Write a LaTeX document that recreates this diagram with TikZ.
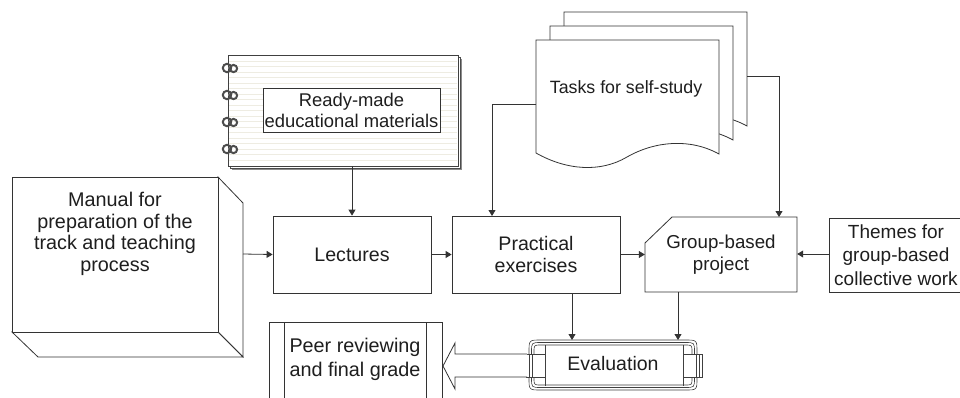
\documentclass[tikz,border=0pt]{standalone}
\usepackage{fontspec}
\setmainfont{Liberation Sans}
\usetikzlibrary{arrows.meta}
\definecolor{ink}{HTML}{1E1E1E}
\definecolor{rule}{HTML}{EEECE2}
\tikzset{
  ln/.style={draw=black!80, line width=0.8pt},
  arr/.style={draw=black!80, line width=0.8pt, -{Triangle[width=7pt,length=6pt]}},
  box/.style={draw=black!80, line width=0.8pt, fill=white, inner sep=0pt, align=center, text=ink},
  lbl/.style={inner sep=0pt, align=center, text=ink},
  fnt/.style={font=\fontsize{19.6}{22.5}\selectfont},
}
\newcommand\taskdoc{%
  (0,0) -- (183,0) -- (183,114) .. controls (154,98) and (119,101) .. (91,117)
  .. controls (64,133) and (30,130) .. (0,113) -- cycle}
\begin{document}
\begin{tikzpicture}[x=1pt,y=-1pt]
\useasboundingbox (0,0) rectangle (960,397);
\clip (0,0) rectangle (960,397);

% ---------- Manual (3D box)
\draw[ln, fill=white] (218,177) -- (243,203) -- (243,357) -- (218,332) -- cycle;
\draw[ln, fill=white] (12,332) -- (38,357) -- (243,357) -- (218,332) -- cycle;
\node[box, minimum width=206pt, minimum height=155pt] (manual) at (115,254.5) {};
\node[lbl, font=\fontsize{19.8}{21.7}\selectfont] (manualtxt) at (115,234)
  {Manual for\\preparation of the\\track and teaching\\process};
\coordinate (manualside) at (243,254);

% ---------- Notebook
\fill[black!45] (232,59) rectangle (462,170);
\draw[black!70, line width=0.6pt, fill=white] (230,57) rectangle (460,168);
\fill[white] (228,55) rectangle (458,166);
\foreach \y in {61,66.5,...,164} \draw[rule, line width=0.7pt] (229,\y) -- (457,\y);
\draw[black!75, line width=0.8pt] (228,55) rectangle (458,166);
\foreach \y in {68,95,122,149} {
  \draw[black!70, line width=2pt] (227,\y) circle[radius=4.2];
  \draw[black!70, line width=2pt] (233.5,\y+0.5) circle[radius=3.6];
  \fill[white] (227,\y) circle[radius=1.6];
  \fill[white] (233.5,\y+0.5) circle[radius=1.3];
}
\node[box, minimum width=177pt, minimum height=44pt, font=\fontsize{18.4}{21}\selectfont] (ready) at (351.5,110)
  {Ready-made\\educational materials};
\coordinate (nb) at (352,166);

% ---------- Tasks for self-study (stacked documents)
\begin{scope}[shift={(564,12)}] \draw[ln, fill=white] \taskdoc; \end{scope}
\begin{scope}[shift={(550,26)}] \draw[ln, fill=white] \taskdoc; \end{scope}
\begin{scope}[shift={(536,40)}] \draw[ln, fill=white] \taskdoc; \end{scope}
\node[lbl, font=\fontsize{17.8}{21}\selectfont] (tasks) at (626,89) {Tasks for self-study};
\coordinate (t1) at (536,104);
\coordinate (t3) at (747,76);

% ---------- Main row
\node[box, fnt, minimum width=158pt, minimum height=77pt] (lect) at (352,254.5) {Lectures};
\node[box, fnt, minimum width=168pt, minimum height=77pt] (prac) at (536,254.5) {Practical\\exercises};
\draw[ln, fill=white] (645,243) -- (672,217) -- (797,217) -- (797,292) -- (645,292) -- cycle;
\node[lbl, minimum width=152pt, minimum height=75pt, font=\fontsize{18.7}{21.5}\selectfont] (grp) at (721,254.5) {Group-based\\project};
\draw[ln, fill=white] (829,218) rectangle (975,292);
\node[lbl, font=\fontsize{19}{23.5}\selectfont] (themes) at (896,255) {Themes for\\group-based\\collective work};
\coordinate (themesw) at (829,254);
\coordinate (pin) at (492,216);
\coordinate (gin) at (779,217);

% ---------- Evaluation
\foreach \d in {0,2.5,5} {
  \draw[black!75, line width=0.6pt, fill=white]
    (541,340+\d) -- (685,340+\d) .. controls (697-\d,340+\d) .. (697-\d,352)
    -- (697-\d,378) .. controls (697-\d,390-\d) .. (685,390-\d)
    -- (541,390-\d) .. controls (529+\d,390-\d) .. (529+\d,378)
    -- (529+\d,352) .. controls (529+\d,340+\d) .. (541,340+\d) -- cycle;
}
\draw[black!75, line width=0.6pt, fill=white] (526,354) rectangle (545,377);
\draw[black!75, line width=0.6pt] (529,354) -- (529,377) (532,354) -- (532,377);
\draw[black!75, line width=0.6pt] (545,345) -- (545,354) (545,377) -- (545,386);
\draw[black!75, line width=0.6pt, fill=white] (683,354) rectangle (702,377);
\draw[black!75, line width=0.6pt] (699,354) -- (699,377) (696,354) -- (696,377);
\draw[black!75, line width=0.6pt] (683,345) -- (683,354) (683,377) -- (683,386);
\node[lbl, font=\fontsize{19.5}{22}\selectfont] (eval) at (613,364) {Evaluation};
\coordinate (e1) at (572,340);
\coordinate (e2) at (678,340);
\coordinate (evalw) at (527,366);

% ---------- Peer reviewing
\draw[ln, fill=white] (269,322) rectangle (442,420);
\draw[ln] (284,322) -- (284,420) (426,322) -- (426,420);
\node[lbl, font=\fontsize{19.8}{24}\selectfont] (peer) at (355,359) {Peer reviewing\\and final grade};

% ---------- Hollow arrow Evaluation -> Peer
\draw[ln, fill=white] ([yshift=12pt]evalw) -- (455,354) -- (455,343) -- (443,366)
  -- (455,389) -- (455,377) -- ([yshift=-11pt]evalw);

% ---------- Connectors
\draw[arr] (manualside) -- (lect.west);
\draw[arr] (lect.east) -- (prac.west);
\draw[arr] (prac.east) -- (grp.west);
\draw[arr] (themesw) -- (grp.east |- themesw);
\draw[arr] (nb) -- (lect.north);
\draw[arr] (t1) -| (pin);
\draw[arr] (t3) -| (gin);
\draw[arr] (prac.south -| e1) -- (e1);
\draw[arr] (grp.south -| e2) -- (e2);
\end{tikzpicture}
\end{document}
